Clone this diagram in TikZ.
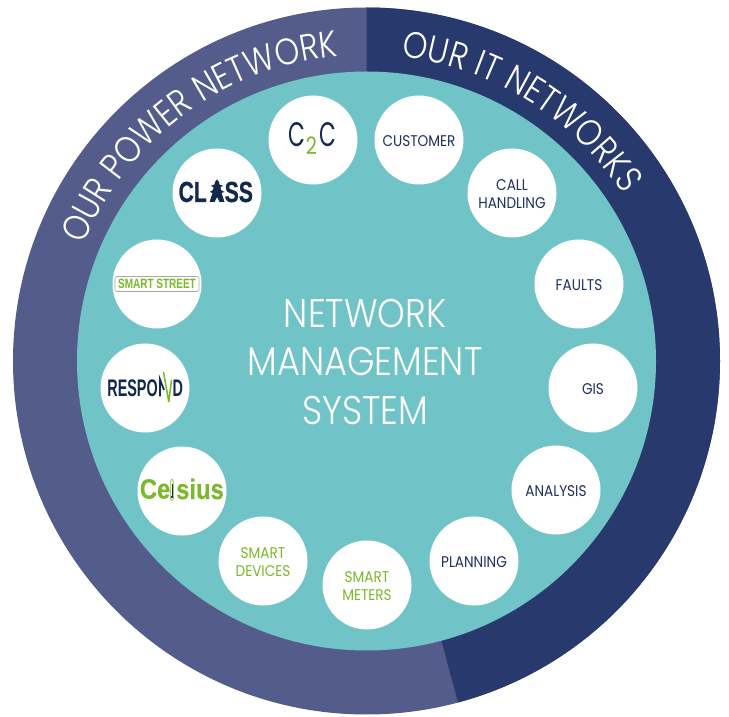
\documentclass[tikz,border=0pt]{standalone}
\usepackage{fontspec}
\usetikzlibrary{decorations.text,calc}
\setmainfont{Poppins Light}
\newfontfamily\ringfont{Poppins Light}[FakeStretch=0.85]
\newfontfamily\titlefont{Poppins Light}[FakeStretch=0.88]
\newfontfamily\labelfont{Poppins}[FakeStretch=0.88]
\newfontfamily\ctocfont{Poppins}[FakeStretch=0.64]
\newfontfamily\ctwofont{Poppins}[FakeStretch=0.8]
\newfontfamily\classfont{Liberation Sans}[FakeStretch=0.73,FakeBold=0.6]
\newfontfamily\celsiusfont{Liberation Sans}[FakeStretch=0.85,FakeBold=0.3]
\newfontfamily\condfont{Liberation Sans}[FakeStretch=0.74]
\newfontfamily\respfont{Liberation Sans}[FakeStretch=0.6]
\definecolor{powerblue}{HTML}{535C8B}
\definecolor{itnavy}{HTML}{28396E}
\definecolor{teal1}{HTML}{70C4C7}
\definecolor{leaf}{HTML}{7AB929}
\definecolor{inknavy}{HTML}{1F2F63}
\definecolor{logonavy}{HTML}{12284F}
\tikzset{
  bubble/.style={circle,fill=white,minimum size=89pt,inner sep=0pt},
  itext/.style={text=inknavy,align=center,yshift=-1pt,inner sep=0pt,font=\labelfont\fontsize{15.5}{18.5}\selectfont},
  greentext/.style={text=leaf,align=center,yshift=-1pt,inner sep=0pt,font=\labelfont\fontsize{15.5}{18.5}\selectfont},
  itlabel/.style={bubble,label={[itext]center:#1}},
  greenlabel/.style={bubble,label={[greentext]center:#1}},
  logo/.style={inner sep=0pt},
}
\begin{document}
\begin{tikzpicture}[x=1pt,y=1pt]
\useasboundingbox (0,0) rectangle (729,716);
\coordinate (c) at (366.5,355);
\fill[powerblue] (c) circle (353.5);
\fill[itnavy] (c) -- ++(90:353.5) arc (90:-75:353.5) -- cycle;
\fill[teal1] (c) circle (289.5);
% ring titles
\path[decorate,decoration={text along path,text align=fit to path,
  text={|\ringfont\fontsize{37}{37}\selectfont\color{white}|OUR POWER NETWORK}}]
  ($(c)+(157.7:306)$) arc (157.7:97:306);
\path[decorate,decoration={text along path,text align=fit to path,
  text={|\ringfont\fontsize{37}{37}\selectfont\color{white}|OUR IT NETWORKS}}]
  ($(c)+(83.5:306)$) arc (83.5:33:306);
% centre
\node[text=white,align=center,font=\titlefont\fontsize{40}{48.5}\selectfont] (title) at (365,354) {NETWORK\\MANAGEMENT\\SYSTEM};
% bubbles
\node[itlabel={CUSTOMER}] (customer) at (419,576) {};
\node[itlabel={CALL\\HANDLING}] (call) at (512,523) {};
\node[itlabel={FAULTS}] (faults) at (579,432) {};
\node[itlabel={GIS}] (gis) at (593,328) {};
\node[itlabel={ANALYSIS}] (analysis) at (556,226) {};
\node[itlabel={PLANNING}] (planning) at (474,155) {};
\node[greenlabel={SMART\\METERS}] (meters) at (367,131) {};
\node[greenlabel={SMART\\DEVICES}] (devices) at (263,155) {};
\node[bubble] (celsius) at (182,225) {};
\node[bubble] (respond) at (145,328) {};
\node[bubble] (street) at (157,432) {};
\node[bubble] (class) at (217,523) {};
\node[bubble] (ctoc) at (313,576) {};
% C2C logo
\node[logo,text=logonavy,font=\ctocfont\fontsize{34}{34}\selectfont] (c2a) at (296.5,581) {C};
\node[logo,text=logonavy,font=\ctocfont\fontsize{34}{34}\selectfont] (c2b) at (327.5,581) {C};
\node[logo,text=leaf,font=\ctwofont\fontsize{24}{24}\selectfont] (c2n) at (311.5,570.5) {2};
% CLASS logo
\node[logo,text=logonavy,anchor=east,font=\classfont\bfseries\fontsize{29}{29}\selectfont] (classa) at (207,524) {CL};
\node[logo,text=logonavy,anchor=west,font=\classfont\bfseries\fontsize{29}{29}\selectfont] (classb) at (224.5,524) {SS};
\fill[logonavy] (217,536.5) -- (219,534) -- (219.5,531.5) -- (223.5,530) -- (220.5,529) -- (221,526) -- (224.5,524) -- (221.5,523) -- (224.5,514) -- (219.5,514) -- (217,519) -- (214.5,514) -- (209.5,514) -- (212.5,523) -- (209.5,524) -- (213,526) -- (213.5,529) -- (210.5,530) -- (214.5,531.5) -- (215,534) -- cycle;
% SMART STREET logo
\node[logo,draw=gray!70,rounded corners=1.5pt,line width=0.7pt,text=leaf,minimum width=84pt,minimum height=15pt,font=\condfont\bfseries\fontsize{13.5}{13.5}\selectfont] (streettext) at (157,432) {SMART STREET};
% RESPOND logo
\node[logo,text=logonavy,anchor=east,font=\respfont\bfseries\fontsize{24}{24}\selectfont] (resp) at (158,328) {RESPO};
\node[logo,text=logonavy,anchor=west,font=\respfont\bfseries\fontsize{24}{24}\selectfont] (respd) at (172.5,328) {D};
\draw[logonavy,line width=1.8pt] (160,319.5) -- (160,336.5) -- (164,326);
\draw[leaf,line width=1.5pt,line join=bevel] (163.5,344) -- (168.8,314) -- (171.5,336);
% Celsius logo
\node[logo,text=leaf,anchor=east,font=\celsiusfont\bfseries\fontsize{28}{28}\selectfont] (cels) at (170.5,227) {Ce};
\node[logo,text=leaf,anchor=west,font=\celsiusfont\bfseries\fontsize{28}{28}\selectfont] (sius) at (176,227) {sius};
\draw[leaf,line width=0.5pt,rounded corners=1.5pt] (170.6,215.5) rectangle (173.4,236.5);
\draw[logonavy,line width=0.8pt] (172,232) -- (172,219);
\fill[logonavy] (172,219) circle (1.3);
\end{tikzpicture}
\end{document}
